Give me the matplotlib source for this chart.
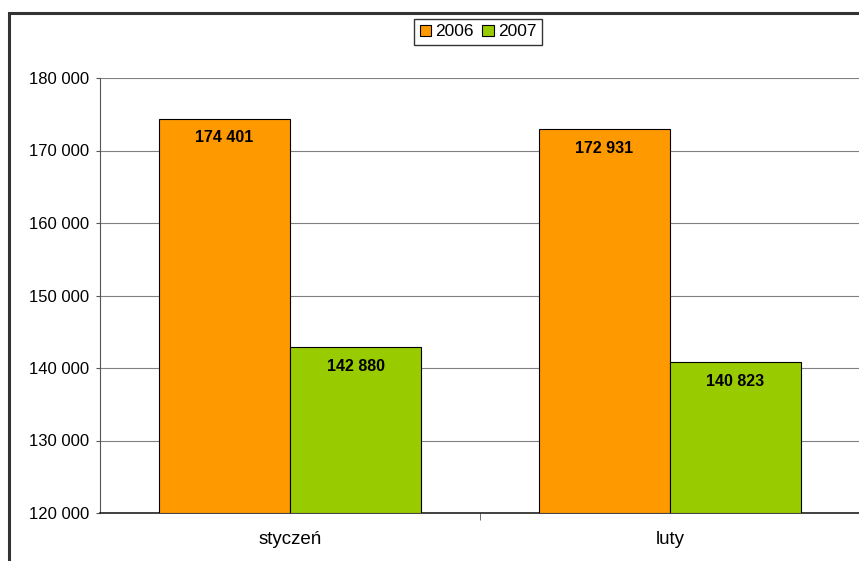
import matplotlib
matplotlib.use("Agg")
import matplotlib.pyplot as plt
from matplotlib.patches import Rectangle, Patch
import numpy as np

plt.rcParams['font.family'] = ['Liberation Sans', 'DejaVu Sans']

categories = ["styczeń", "luty"]
series_names = ["2006", "2007"]
values_2006 = [174401, 172931]
values_2007 = [142880, 140823]
colors = ["#FF9900", "#99CC00"]
yticks = [120000, 130000, 140000, 150000, 160000, 170000, 180000]

def fmt(v):
    return f"{v:,}".replace(",", " ")

W, H = 859, 561
fig = plt.figure(figsize=(W/100, H/100), dpi=100)
# outer chart border
fig.patches.append(Rectangle((9/W, -0.1), 1.2, 1 - 13/H + 0.1, transform=fig.transFigure,
                             fill=False, edgecolor="#333333", linewidth=2.2))

ax = fig.add_axes([100/W, 1 - 513/H, 760/W, (513-78)/H])
x = np.arange(len(categories))
bw = 0.345
for i, (vals, c) in enumerate(zip([values_2006, values_2007], colors)):
    pos = x + (i - 0.5) * bw
    ax.bar(pos, np.array(vals) - 120000, bw, bottom=120000, color=c,
           edgecolor="black", linewidth=0.8, zorder=3)
    for p, v in zip(pos, vals):
        ax.text(p, v - 1600, fmt(v), ha="center", va="top", fontsize=11.5,
                fontweight="bold", zorder=4)

ax.set_xlim(-0.5, 1.5)
ax.set_ylim(120000, 180000)
ax.set_yticks(yticks)
ax.set_yticklabels([fmt(t) for t in yticks], fontsize=12)
ax.yaxis.grid(True, color="#808080", linewidth=0.8, zorder=0)
ax.set_axisbelow(True)
ax.set_xticks(x)
ax.set_xticklabels(categories, fontsize=13.5)
ax.tick_params(axis="x", length=0, pad=13)
ax.set_xticks([0.5], minor=True)
ax.tick_params(axis="x", which="minor", length=5, color="#555555")
ax.tick_params(axis="y", length=3, color="#555555", pad=5)
for s in ["top", "right"]:
    ax.spines[s].set_visible(False)
ax.spines["left"].set_color("#555555")
ax.spines["bottom"].set_color("#222222")
ax.spines["bottom"].set_linewidth(1.2)

handles = [Patch(facecolor=c, edgecolor="black", linewidth=0.8) for c in colors]
fig.legend(handles, series_names, loc="center", bbox_to_anchor=(478/W, 1 - 32/H),
           ncol=2, frameon=True, fancybox=False, edgecolor="black", fontsize=12.5,
           handlelength=0.65, handleheight=0.65, handletextpad=0.25, columnspacing=0.5,
           borderpad=0.3, borderaxespad=0)

fig.savefig("out.png", dpi=100)
